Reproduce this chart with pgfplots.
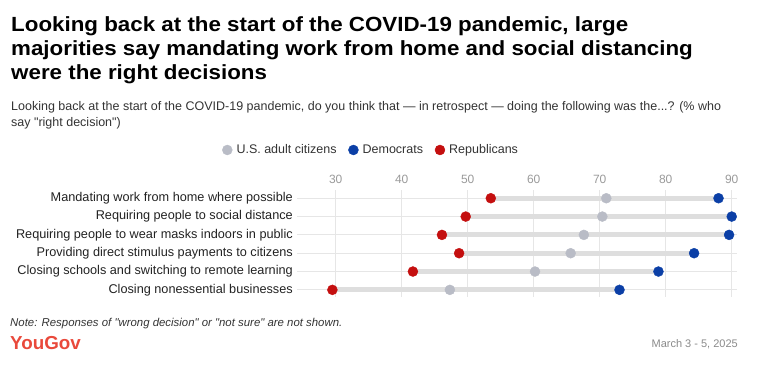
\documentclass[border=0pt]{standalone}
\usepackage{fontspec}
\setmainfont{Liberation Sans}
\newfontfamily\titlefont[FakeStretch=1.09]{Liberation Sans}
\usepackage{pgfplots}
\pgfplotsset{compat=1.18}
\definecolor{repred}{HTML}{C40F0F}
\definecolor{demblue}{HTML}{0B3FA6}
\definecolor{allgray}{HTML}{B9BCC6}
\definecolor{bargray}{HTML}{DEDEDE}
\definecolor{gridgray}{HTML}{E6E6E6}
\definecolor{ticktext}{HTML}{9A9A9A}
\definecolor{labeltext}{HTML}{222222}
\definecolor{subtext}{HTML}{333333}
\definecolor{yougov}{HTML}{E9493B}
\definecolor{datetext}{HTML}{8A8A8A}
\begin{document}
\begin{tikzpicture}
\path[use as bounding box] (0bp,0bp) rectangle (760bp,370bp);
% title
\begin{scope}[every node/.style={anchor=base west, inner sep=0pt}]
\node at (11bp,338bp) {\titlefont\bfseries\fontsize{20.5bp}{24bp}\selectfont Looking back at the start of the COVID-19 pandemic, large};
\node at (11bp,314bp) {\titlefont\bfseries\fontsize{20.5bp}{24bp}\selectfont majorities say mandating work from home and social distancing};
\node at (11bp,290.5bp) {\titlefont\bfseries\fontsize{20.5bp}{24bp}\selectfont were the right decisions};
\node[text=subtext] at (11bp,259.5bp) {\fontsize{12.5bp}{14bp}\selectfont Looking back at the start of the COVID-19 pandemic, do you think that — in retrospect — doing the following was the...? (\% who};
\node[text=subtext] at (11bp,243bp) {\fontsize{12.5bp}{14bp}\selectfont say \textquotedbl right decision\textquotedbl)};
\node[text=subtext] at (10bp,43bp) {\itshape\fontsize{11.4bp}{13bp}\selectfont Note: Responses of \textquotedbl wrong decision\textquotedbl\ or \textquotedbl not sure\textquotedbl\ are not shown.};
\node[text=yougov] at (10bp,20.5bp) {\bfseries\fontsize{18.8bp}{20bp}\selectfont YouGov};
\node[text=datetext, anchor=base east] at (738bp,23bp) {\fontsize{11bp}{12bp}\selectfont March 3 - 5, 2025};
\end{scope}
\begin{axis}[
  at={(297bp,73bp)}, anchor=south west,
  scale only axis, width=440bp, height=107bp,
  xmin=24.14, xmax=90.8,
  ymin=-0.45, ymax=5.39, y dir=reverse,
  clip=false,
  axis line style={draw=none},
  major tick length=0pt,
  xtick={30,40,...,90},
  ytick={0,...,5},
  yticklabels={Mandating work from home where possible,
    Requiring people to social distance,
    Requiring people to wear masks indoors in public,
    Providing direct stimulus payments to citizens,
    Closing schools and switching to remote learning,
    Closing nonessential businesses},
  xticklabel pos=top,
  xticklabel style={font=\fontsize{12bp}{14bp}\selectfont, text=ticktext, anchor=south, inner sep=0pt, yshift=6bp},
  yticklabel style={font=\fontsize{12.7bp}{14bp}\selectfont, text=labeltext, anchor=east, inner sep=0pt, xshift=-4bp},
  /pgf/number format/assume math mode=true,
  xmajorgrids, ymajorgrids,
  major grid style={gridgray, line width=0.8bp},
  legend columns=-1,
  legend style={draw=none, fill=none, at={(axis description cs:0.166,1.374)}, anchor=center,
    font=\fontsize{12.5bp}{15bp}\selectfont, text=subtext,
    nodes={inner sep=0pt},
    /tikz/every odd column/.append style={column sep=4bp},
    /tikz/every even column/.append style={column sep=11.7bp}},
  legend cell align=left,
  legend image code/.code={\fill[#1] (0bp,0bp) circle (5bp);},
]
\addplot[bargray, line width=4.8bp, forget plot] coordinates {(53.5,0) (88.0,0)};
\addplot[bargray, line width=4.8bp, forget plot] coordinates {(49.7,1) (90.0,1)};
\addplot[bargray, line width=4.8bp, forget plot] coordinates {(46.1,2) (89.6,2)};
\addplot[bargray, line width=4.8bp, forget plot] coordinates {(48.7,3) (84.3,3)};
\addplot[bargray, line width=4.8bp, forget plot] coordinates {(41.7,4) (78.9,4)};
\addplot[bargray, line width=4.8bp, forget plot] coordinates {(29.5,5) (73.0,5)};
\addplot[only marks, mark=*, mark size=5bp, color=allgray] coordinates {
 (71.0,0) (70.4,1) (67.6,2) (65.6,3) (60.2,4) (47.3,5)};
\addlegendentry{U.S. adult citizens}
\addplot[only marks, mark=*, mark size=5bp, color=demblue] coordinates {
 (88.0,0) (90.0,1) (89.6,2) (84.3,3) (78.9,4) (73.0,5)};
\addlegendentry{Democrats}
\addplot[only marks, mark=*, mark size=5bp, color=repred] coordinates {
 (53.5,0) (49.7,1) (46.1,2) (48.7,3) (41.7,4) (29.5,5)};
\addlegendentry{Republicans}
\end{axis}
\end{tikzpicture}
\end{document}
